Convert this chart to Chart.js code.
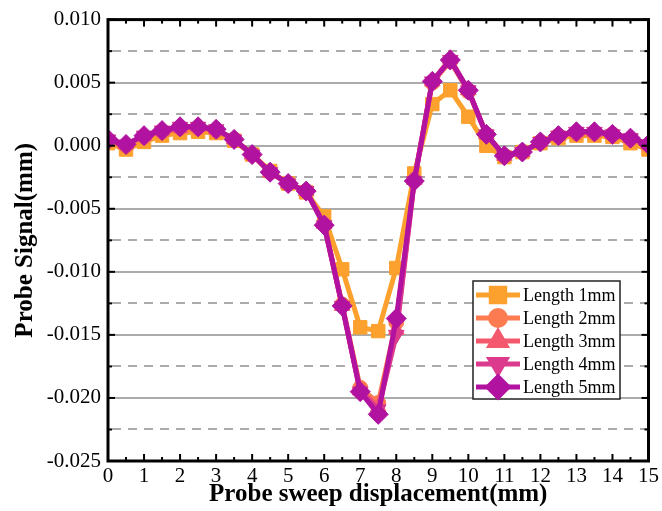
<!DOCTYPE html>
<html>
<head>
<meta charset="utf-8">
<script src="https://cdn.jsdelivr.net/npm/chart.js@4.4.1/dist/chart.umd.min.js"></script>
<style>
  html, body { margin: 0; padding: 0; background: #ffffff; }
  #wrap { width: 662px; height: 511px; }
</style>
</head>
<body>
<div id="wrap"><canvas id="probeChart" width="662" height="511"></canvas></div>
<script>
// sweep positions (mm)
const displacement = [0, 0.5, 1, 1.5, 2, 2.5, 3, 3.5, 4, 4.5, 5, 5.5, 6, 6.5, 7, 7.5,
                      8, 8.5, 9, 9.5, 10, 10.5, 11, 11.5, 12, 12.5, 13, 13.5, 14, 14.5, 15];

const length1 = [0.0002, -0.0003, 0.0003, 0.0008, 0.0010, 0.0011, 0.0010, 0.0004, -0.0007, -0.0020,
                 -0.0030, -0.0037, -0.0056, -0.0098, -0.0144, -0.0147, -0.0097, -0.0022, 0.0033, 0.0044,
                 0.0023, 0.0000, -0.0009, -0.0005, 0.0002, 0.0006, 0.0008, 0.0008, 0.0007, 0.0002, -0.0003];
const length2 = [0.0004, 0.0000, 0.0007, 0.0011, 0.0014, 0.0014, 0.0012, 0.0005, -0.0007, -0.0021,
                 -0.0030, -0.0036, -0.0062, -0.0126, -0.0192, -0.0204, -0.0140, -0.0027, 0.0050, 0.0067,
                 0.0043, 0.0009, -0.0008, -0.0005, 0.0003, 0.0008, 0.0010, 0.0010, 0.0009, 0.0005, 0.0000];
const length3 = [0.0004, 0.0001, 0.0008, 0.0012, 0.0014, 0.0015, 0.0013, 0.0005, -0.0007, -0.0021,
                 -0.0030, -0.0036, -0.0062, -0.0127, -0.0194, -0.0207, -0.0146, -0.0027, 0.0051, 0.0069,
                 0.0044, 0.0009, -0.0008, -0.0005, 0.0003, 0.0008, 0.0011, 0.0011, 0.0009, 0.0006, 0.0001];
const length4 = [0.0005, 0.0001, 0.0008, 0.0012, 0.0015, 0.0015, 0.0013, 0.0005, -0.0007, -0.0021,
                 -0.0030, -0.0036, -0.0063, -0.0127, -0.0195, -0.0209, -0.0150, -0.0028, 0.0051, 0.0068,
                 0.0044, 0.0009, -0.0008, -0.0005, 0.0003, 0.0008, 0.0011, 0.0011, 0.0009, 0.0006, 0.0001];
const length5 = [0.0005, 0.0001, 0.0008, 0.0012, 0.0015, 0.0015, 0.0013, 0.0005, -0.0007, -0.0021,
                 -0.0030, -0.0036, -0.0063, -0.0127, -0.0195, -0.0213, -0.0137, -0.0028, 0.0051, 0.0068,
                 0.0044, 0.0009, -0.0008, -0.0005, 0.0003, 0.0008, 0.0011, 0.0011, 0.0009, 0.0006, 0.0001];

const seriesNames = ["Length 1mm", "Length 2mm", "Length 3mm", "Length 4mm", "Length 5mm"];
const seriesValues = [length1, length2, length3, length4, length5];

// axis ticks
const xTicks = [0, 1, 2, 3, 4, 5, 6, 7, 8, 9, 10, 11, 12, 13, 14, 15];
const yTicks = [0.010, 0.005, 0.000, -0.005, -0.010, -0.015, -0.020, -0.025];

const colors = ["#fca12e", "#fd7b50", "#f4586f", "#dc3a8c", "#b1129f"];
const markers = [
  { style: "rect", radius: 9.5, rotation: 0 },
  { style: "circle", radius: 7.5, rotation: 0 },
  { style: "triangle", radius: 9, rotation: 0 },
  { style: "triangle", radius: 9, rotation: 180 },
  { style: "rectRot", radius: 10, rotation: 0 }
];

const serif = "'Liberation Serif', 'Times New Roman', serif";

// minor ticks half way between the labelled ones
const midpoints = arr => arr.slice(1).map((v, i) => (v + arr[i]) / 2);
const xMinor = midpoints(xTicks);
const yMinor = midpoints(yTicks);

// grid lines, frame and inward ticks
const framePlugin = {
  id: "frame",
  beforeDatasetsDraw(chart) {
    const { ctx, chartArea: a, scales: { y } } = chart;
    ctx.save();
    ctx.strokeStyle = "#ababab";
    ctx.lineWidth = 2;
    yTicks.slice(1, -1).forEach(v => {
      const py = Math.round(y.getPixelForValue(v));
      ctx.beginPath(); ctx.moveTo(a.left, py); ctx.lineTo(a.right, py); ctx.stroke();
    });
    ctx.setLineDash([9, 7]);
    yMinor.forEach(v => {
      const py = Math.round(y.getPixelForValue(v));
      ctx.beginPath(); ctx.moveTo(a.left + 4, py); ctx.lineTo(a.right, py); ctx.stroke();
    });
    ctx.restore();
  },
  afterDatasetsDraw(chart) {
    const { ctx, chartArea: a, scales: { x, y } } = chart;
    ctx.save();
    ctx.strokeStyle = "#000000";
    ctx.lineWidth = 2;
    const tick = (x1, y1, x2, y2) => { ctx.beginPath(); ctx.moveTo(x1, y1); ctx.lineTo(x2, y2); ctx.stroke(); };
    xTicks.forEach(v => {
      const px = x.getPixelForValue(v);
      tick(px, a.bottom, px, a.bottom - 7);
      tick(px, a.top, px, a.top + 7);
    });
    xMinor.forEach(v => {
      const px = x.getPixelForValue(v);
      tick(px, a.bottom, px, a.bottom - 4);
      tick(px, a.top, px, a.top + 4);
    });
    yTicks.forEach(v => {
      const py = y.getPixelForValue(v);
      tick(a.left, py, a.left + 7, py);
      tick(a.right, py, a.right - 7, py);
    });
    yMinor.forEach(v => {
      const py = y.getPixelForValue(v);
      tick(a.left, py, a.left + 4, py);
      tick(a.right, py, a.right - 4, py);
    });
    ctx.lineWidth = 3;
    ctx.strokeRect(a.left, a.top, a.right - a.left, a.bottom - a.top);
    ctx.restore();
  }
};

// legend with line + marker samples
const legendPlugin = {
  id: "lineLegend",
  afterDraw(chart) {
    const ctx = chart.ctx;
    const bx = 473, by = 281, bw = 147, bh = 118;
    ctx.save();
    ctx.fillStyle = "#ffffff";
    ctx.fillRect(bx, by, bw, bh);
    ctx.strokeStyle = "#222222";
    ctx.lineWidth = 1.5;
    ctx.strokeRect(bx, by, bw, bh);
    chart.data.datasets.forEach((ds, i) => {
      const ly = by + 14 + i * 23;
      ctx.strokeStyle = ds.borderColor;
      ctx.lineWidth = 5;
      ctx.beginPath(); ctx.moveTo(bx + 3, ly); ctx.lineTo(bx + 47, ly); ctx.stroke();
      ctx.fillStyle = ds.borderColor;
      Chart.helpers.drawPoint(ctx, {
        pointStyle: ds.pointStyle,
        radius: ds.pointRadius,
        rotation: ds.pointRotation,
        borderWidth: 1
      }, bx + 25, ly);
      ctx.fillStyle = "#000000";
      ctx.font = "18px " + serif;
      ctx.textBaseline = "middle";
      ctx.textAlign = "left";
      ctx.fillText(ds.label, bx + 50, ly + 1);
    });
    ctx.restore();
  }
};

const datasets = seriesNames.map((name, i) => ({
  label: name,
  data: displacement.map((d, j) => ({ x: d, y: seriesValues[i][j] })),
  borderColor: colors[i],
  backgroundColor: colors[i],
  pointBackgroundColor: colors[i],
  pointBorderColor: colors[i],
  borderWidth: 5,
  pointStyle: markers[i].style,
  pointRadius: markers[i].radius,
  pointRotation: markers[i].rotation,
  pointBorderWidth: 1,
  tension: 0,
  order: seriesNames.length - i
}));

new Chart(document.getElementById("probeChart"), {
  type: "line",
  data: { datasets: datasets },
  options: {
    responsive: false,
    animation: false,
    events: [],
    layout: { padding: { top: 18, right: 12, left: 0, bottom: 0 } },
    plugins: { legend: { display: false }, tooltip: { enabled: false } },
    scales: {
      x: {
        type: "linear",
        min: 0,
        max: 15,
        afterFit: s => { s.height = 50; },
        afterBuildTicks: s => { s.ticks = xTicks.map(v => ({ value: v })); },
        grid: { display: false, drawTicks: false },
        border: { display: false },
        ticks: {
          color: "#000000",
          font: { family: serif, size: 21 },
          padding: 3,
          maxRotation: 0,
          autoSkip: false,
          callback: v => String(v)
        },
        title: {
          display: true,
          text: "Probe sweep displacement(mm)",
          color: "#000000",
          font: { family: serif, size: 25, weight: "bold" },
          padding: { top: 0, bottom: 1 }
        }
      },
      y: {
        type: "linear",
        min: -0.025,
        max: 0.010,
        afterFit: s => { s.width = 108; },
        afterBuildTicks: s => { s.ticks = yTicks.map(v => ({ value: v })); },
        grid: { display: false, drawTicks: false },
        border: { display: false },
        ticks: {
          color: "#000000",
          font: { family: serif, size: 21 },
          padding: 7,
          callback: v => v.toFixed(3)
        },
        title: {
          display: true,
          text: "Probe Signal(mm)",
          color: "#000000",
          font: { family: serif, size: 25, weight: "bold" },
          padding: { top: 11, bottom: 0 }
        }
      }
    }
  },
  plugins: [framePlugin, legendPlugin]
});
</script>
</body>
</html>
